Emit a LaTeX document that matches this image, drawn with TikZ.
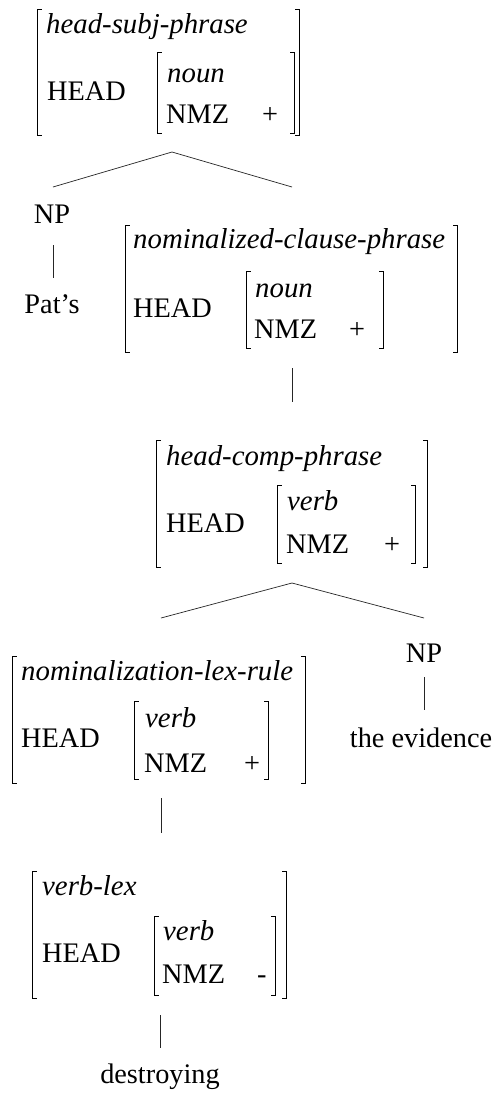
\documentclass[tikz,border=0pt]{standalone}
\usepackage{fontspec}
\setmainfont{Liberation Serif}
\begin{document}
\begin{tikzpicture}[x=1pt,y=-1pt,
  txt/.style={inner sep=0pt,anchor=base west,font=\fontsize{28.3pt}{33pt}\selectfont},
  lbl/.style={inner sep=0pt,anchor=base,font=\fontsize{28.3pt}{33pt}\selectfont},
  it/.style={txt,font=\fontsize{28.8pt}{33pt}\selectfont\itshape},
  brk/.style={line width=1.1pt,black},
  edge/.style={line width=0.7pt,black!85}]
\useasboundingbox[fill=white] (0,0) rectangle (501,1095);
% bracket pair: name, xL, xR, top, bottom
\newcommand{\avmbr}[5]{%
  \node[inner sep=0pt,draw=none,minimum width={#3-#2},minimum height={#5-#4}] (#1) at ({(#2+#3)/2},{(#4+#5)/2}) {};
  \draw[brk] ([xshift=4pt]#1.north west) -- (#1.north west) -- (#1.south west) -- ([xshift=4pt]#1.south west);
  \draw[brk] ([xshift=-4pt]#1.north east) -- (#1.north east) -- (#1.south east) -- ([xshift=-4pt]#1.south east);}
% AVM 1
\avmbr{avmA}{38}{299}{10}{135}
\avmbr{avmAi}{158}{294}{53}{133}
\node[it] (a1t) at (46,33) {head-subj-phrase};
\node[txt] (a1h) at (47,100) {HEAD};
\node[it] (a1n) at (167,82) {noun};
\node[txt] (a1m) at (166,123) {NMZ};
\node[txt] (a1p) at (262,123) {+};
% tree 1
\coordinate (t1) at (172,152);
\coordinate (t1l) at (53,187);
\coordinate (t1r) at (292,187);
\draw[edge] (t1l) -- (t1) -- (t1r);
\node[lbl] (np1) at (52,223) {NP};
\node[lbl] (pats) at (52,313) {Pat’s};
\coordinate (np1b) at (53,245);
\coordinate (patst) at (53,278);
\draw[edge] (np1b) -- (patst);
% AVM 2
\avmbr{avmB}{126}{457}{226}{352}
\avmbr{avmBi}{247}{383}{272}{348}
\node[it] (b1t) at (133,248) {nominalized-clause-phrase};
\node[txt] (b1h) at (133,317) {HEAD};
\node[it] (b1n) at (255,297) {noun};
\node[txt] (b1m) at (254,338) {NMZ};
\node[txt] (b1p) at (349,338) {+};
\coordinate (bb) at (292,368);
\coordinate (ct) at (292,402);
\draw[edge] (bb) -- (ct);
% AVM 3
\avmbr{avmC}{157}{427}{441}{567}
\avmbr{avmCi}{278}{415}{486}{563}
\node[it] (c1t) at (166,465) {head-comp-phrase};
\node[txt] (c1h) at (166,532) {HEAD};
\node[it] (c1n) at (287,510) {verb};
\node[txt] (c1m) at (286,553) {NMZ};
\node[txt] (c1p) at (384,553) {+};
% tree 2
\coordinate (t2) at (292,583);
\coordinate (t2l) at (161,618);
\coordinate (t2r) at (424,618);
\draw[edge] (t2l) -- (t2) -- (t2r);
\node[lbl] (np2) at (424,662) {NP};
\node[lbl] (evid) at (421,747) {the evidence};
\coordinate (np2b) at (424,677);
\coordinate (evidt) at (424,710);
\draw[edge] (np2b) -- (evidt);
% AVM 4
\avmbr{avmD}{13}{305}{657}{783}
\avmbr{avmDi}{135}{268}{702}{779}
\node[it] (d1t) at (21,680) {nominalization-lex-rule};
\node[txt] (d1h) at (21,747) {HEAD};
\node[it] (d1n) at (145,727) {verb};
\node[txt] (d1m) at (144,772) {NMZ};
\node[txt] (d1p) at (244,772) {+};
\coordinate (db) at (161,798);
\coordinate (et) at (161,833);
\draw[edge] (db) -- (et);
% AVM 5
\avmbr{avmE}{33}{286}{872}{998}
\avmbr{avmEi}{155}{275}{917}{995}
\node[it] (e1t) at (42,895) {verb-lex};
\node[txt] (e1h) at (42,962) {HEAD};
\node[it] (e1n) at (163,940) {verb};
\node[txt] (e1m) at (162,983) {NMZ};
\node[txt] (e1p) at (257,983) {-};
\coordinate (eb) at (160,1015);
\coordinate (dt) at (160,1048);
\draw[edge] (eb) -- (dt);
\node[lbl] (destr) at (160,1083) {destroying};
\end{tikzpicture}
\end{document}
